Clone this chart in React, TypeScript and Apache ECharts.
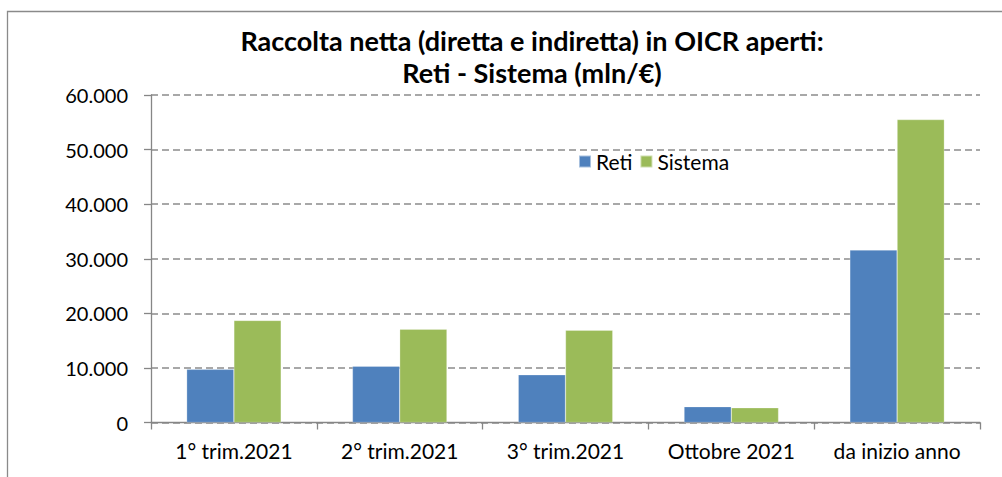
import React, { useEffect, useRef } from "react";
import * as echarts from "echarts";

const categories = ["1° trim.2021", "2° trim.2021", "3° trim.2021", "Ottobre 2021", "da inizio anno"];
const retiValues = [9740, 10300, 8750, 2900, 31600];
const sistemaValues = [18700, 17100, 16900, 2700, 55500];
const titleLines = ["Raccolta netta (diretta e indiretta) in OICR aperti:", "Reti - Sistema (mln/€)"];

const FONT = "Lato, 'Open Sans', sans-serif";

export default function App() {
  const ref = useRef<HTMLDivElement>(null);
  useEffect(() => {
    if (!ref.current) return;
    const chart = echarts.init(ref.current, null, { renderer: "svg" });
    chart.setOption({
      animation: false,
      backgroundColor: "#ffffff",
      textStyle: { fontFamily: FONT },
      title: {
        text: titleLines.join("\n"),
        left: 527,
        top: 19,
        textAlign: "center",
        textStyle: {
          fontFamily: FONT,
          fontWeight: "bold",
          fontSize: 27,
          lineHeight: 32,
          color: "#000000",
        },
      },
      graphic: [
        {
          type: "rect",
          shape: { x: 7.5, y: 11.5, width: 1100, height: 600 },
          style: { fill: "none", stroke: "#8a8a8a", lineWidth: 1.3 },
          silent: true,
        },
      ],
      legend: {
        left: 573,
        top: 146,
        itemWidth: 12,
        itemHeight: 12,
        itemGap: 7,
        icon: "rect",
        textStyle: { fontFamily: FONT, fontSize: 21, color: "#000", lineHeight: 21 },
        data: ["Reti", "Sistema"],
      },
      grid: { left: 151, right: 22, top: 95, bottom: 54.5 },
      xAxis: {
        type: "category",
        data: categories,
        axisLine: { lineStyle: { color: "#868686", width: 1.3 } },
        axisTick: { show: true, length: 7, lineStyle: { color: "#868686", width: 1.3 } },
        axisLabel: { fontFamily: FONT, fontSize: 21, color: "#000", margin: 17 },
      },
      yAxis: {
        type: "value",
        min: 0,
        max: 60000,
        interval: 10000,
        axisLine: { show: true, lineStyle: { color: "#868686", width: 1.3 } },
        axisTick: { show: true, length: 7, lineStyle: { color: "#868686", width: 1.3 } },
        axisLabel: {
          fontFamily: FONT,
          fontSize: 20,
          color: "#000",
          margin: 23,
          formatter: (v: number) => (v === 0 ? "0" : v.toLocaleString("it-IT").replace(/\s/g, ".")),
        },
        splitLine: { show: true, lineStyle: { color: "#8c8c8c", type: [7, 4], width: 1.5 } },
      },
      series: [
        {
          name: "Reti",
          type: "bar",
          data: retiValues,
          barGap: "0%",
          barCategoryGap: "43%",
          itemStyle: { color: "#4F81BD", borderColor: "rgba(255,255,255,0.5)", borderWidth: 0.5 },
        },
        {
          name: "Sistema",
          type: "bar",
          data: sistemaValues,
          barGap: "0%",
          barCategoryGap: "43%",
          itemStyle: { color: "#9BBB59", borderColor: "rgba(255,255,255,0.5)", borderWidth: 0.5 },
        },
      ],
    });
    return () => chart.dispose();
  }, []);
  return (
    <div
      ref={ref}
      style={{ position: "absolute", left: 0, top: 0, width: 1002, height: 477 }}
    />
  );
}
